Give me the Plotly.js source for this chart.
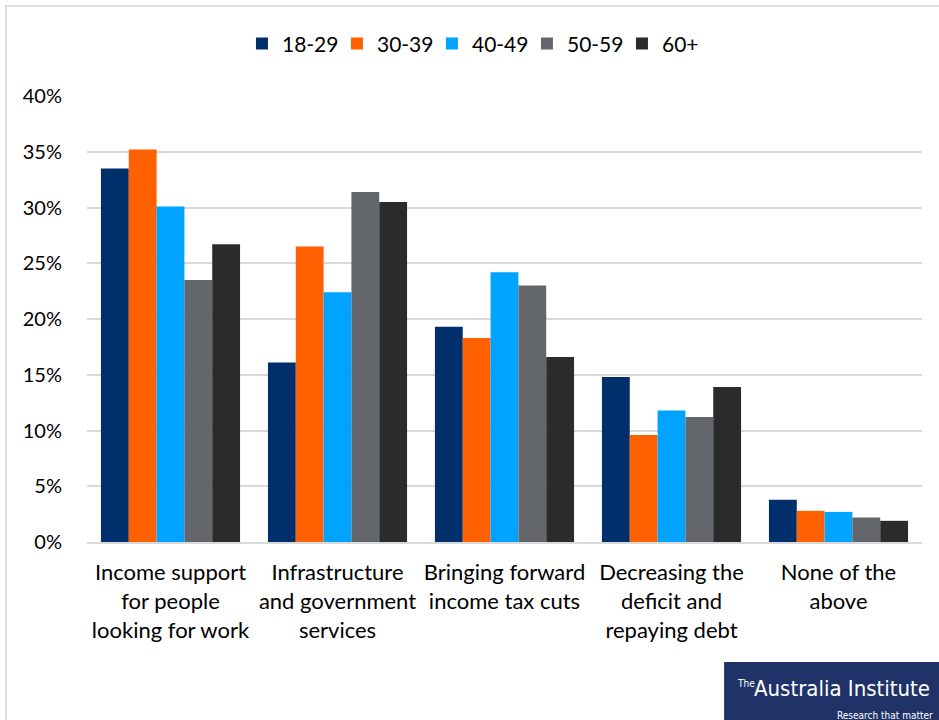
<!DOCTYPE html>
<html>
<head>
<meta charset="utf-8">
<script src="https://cdn.plot.ly/plotly-3.0.1.min.js"></script>
<style>
  html, body { margin: 0; padding: 0; background: #fff; }
  #wrap { position: relative; width: 939px; height: 720px; overflow: hidden; }
  #chart { position: absolute; left: 0; top: 0; width: 939px; height: 720px; }
  #frame { position: absolute; left: 5px; top: 5px; width: 960px; height: 760px;
           border-left: 2px solid #dcdcdc; border-top: 2px solid #dcdcdc; pointer-events: none; }
</style>
</head>
<body>
<div id="wrap">
  <div id="chart"></div>
  <div id="frame"></div>
</div>
<script>
const categories = [
  "Income support<br>for people<br>looking for work",
  "Infrastructure<br>and government<br>services",
  "Bringing forward<br>income tax cuts",
  "Decreasing the<br>deficit and<br>repaying debt",
  "None of the<br>above"
];
const seriesNames = ["18-29", "30-39", "40-49", "50-59", "60+"];
const age18_29 = [33.5, 16.1, 19.3, 14.8, 3.8];
const age30_39 = [35.2, 26.5, 18.3, 9.6, 2.8];
const age40_49 = [30.1, 22.4, 24.2, 11.8, 2.7];
const age50_59 = [23.5, 31.4, 23.0, 11.2, 2.2];
const age60plus = [26.7, 30.5, 16.6, 13.9, 1.9];
const seriesColors = ["#002F6C", "#FF6000", "#00A3FF", "#63666A", "#2B2B2B"];
const yTickVals = [0, 5, 10, 15, 20, 25, 30, 35, 40];
const yTickText = ["0%", "5%", "10%", "15%", "20%", "25%", "30%", "35%", "40%"];

const seriesValues = [age18_29, age30_39, age40_49, age50_59, age60plus];
const FONT = "Lato, Carlito, 'Open Sans', sans-serif";
const LOGO_FONT = "'DejaVu Sans Condensed', 'Liberation Sans Narrow', sans-serif";

const traces = seriesValues.map((vals, i) => ({
  type: "bar",
  name: seriesNames[i],
  x: categories,
  y: vals,
  marker: { color: seriesColors[i], line: { width: 0 } },
  hoverinfo: "skip"
}));

const layout = {
  width: 939,
  height: 720,
  margin: { l: 87, r: 17, t: 96, b: 178 },
  paper_bgcolor: "#ffffff",
  plot_bgcolor: "#ffffff",
  font: { family: FONT, size: 20, color: "#000000" },
  barmode: "group",
  bargap: 0.167,
  bargroupgap: 0,
  showlegend: true,
  legend: {
    orientation: "h",
    x: 0.47, xanchor: "center",
    y: 1.117, yanchor: "middle",
    font: { family: FONT, size: 21, color: "#000" },
    traceorder: "normal",
    entrywidth: 50,
    bgcolor: "rgba(0,0,0,0)"
  },
  xaxis: {
    type: "category",
    showgrid: false,
    showline: true,
    linecolor: "#d9d9d9",
    linewidth: 2,
    ticks: "",
    tickfont: { family: FONT, size: 22, color: "#000" },
    ticklabelstandoff: 10,
    fixedrange: true
  },
  yaxis: {
    range: [0, 40],
    tickvals: yTickVals,
    ticktext: yTickText,
    showgrid: true,
    gridcolor: "#d9d9d9",
    gridwidth: 2,
    zeroline: false,
    showline: false,
    ticks: "",
    tickfont: { family: FONT, size: 20, color: "#000" },
    ticklabelstandoff: 24,
    fixedrange: true
  },
  shapes: [
    {
      type: "rect", xref: "paper", yref: "paper",
      x0: 0.763, x1: 1.05, y0: -0.269, y1: -0.45,
      fillcolor: "#1F3368", line: { width: 0 }, layer: "above"
    }
  ],
  annotations: [
    {
      xref: "paper", yref: "paper", x: 0.776, y: -0.318,
      xanchor: "left", yanchor: "middle", showarrow: false,
      text: "The",
      font: { family: LOGO_FONT, size: 10, color: "#ffffff" }
    },
    {
      xref: "paper", yref: "paper", x: 0.796, y: -0.328,
      xanchor: "left", yanchor: "middle", showarrow: false,
      text: "Australia Institute",
      font: { family: LOGO_FONT, size: 22, color: "#ffffff" }
    },
    {
      xref: "paper", yref: "paper", x: 1.016, y: -0.389,
      xanchor: "right", yanchor: "middle", showarrow: false,
      text: "Research that matter",
      font: { family: LOGO_FONT, size: 10, color: "#ffffff" }
    }
  ]
};

Plotly.newPlot("chart", traces, layout, { staticPlot: true, displayModeBar: false });
</script>
</body>
</html>
